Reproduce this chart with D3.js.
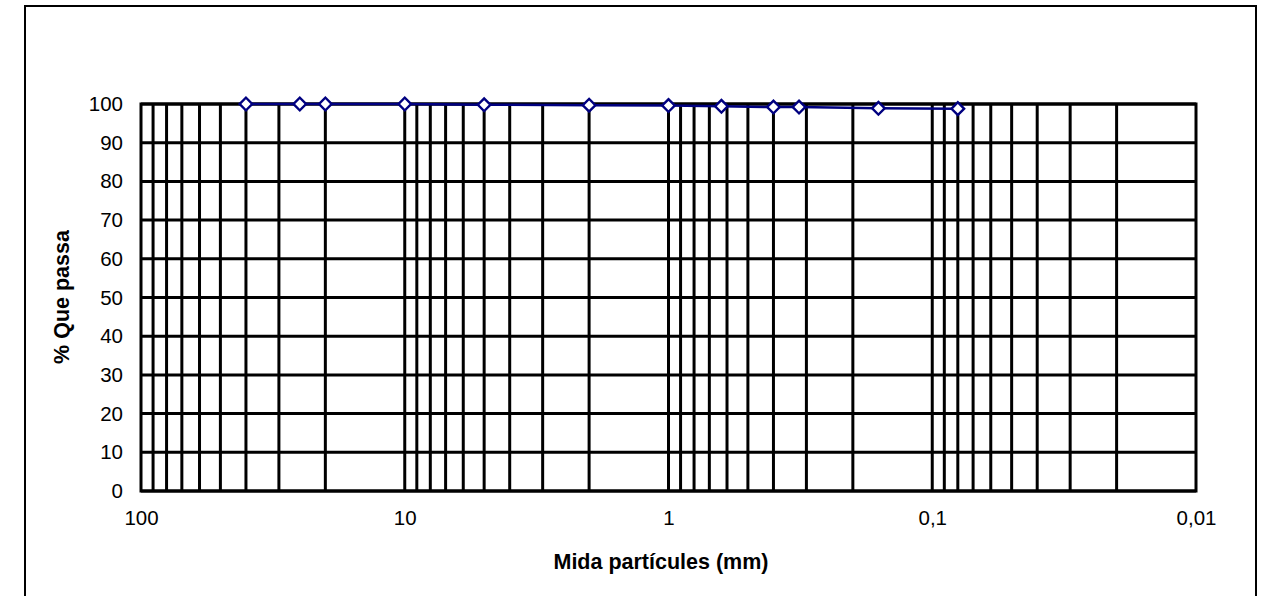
<!DOCTYPE html>
<html>
<head>
<meta charset="utf-8">
<script src="https://cdn.jsdelivr.net/npm/d3@7"></script>
<style>
  html, body { margin: 0; padding: 0; background: #fff; }
  svg { display: block; }
  text { font-family: "Liberation Sans", Arial, sans-serif; fill: #000; }
</style>
</head>
<body>
<svg id="chart" width="1272" height="596"></svg>
<script>
// Granulometric curve: sieve opening (mm) vs percentage passing
const sieveSizes = [40, 25, 20, 10, 5, 2, 1, 0.63, 0.4, 0.32, 0.16, 0.08];
const percentPassing = [100, 100, 100, 100, 99.8, 99.7, 99.6, 99.4, 99.2, 99.2, 98.9, 98.8];
const xTickValues = [100, 10, 1, 0.1, 0.01];
const xTickLabels = ["100", "10", "1", "0,1", "0,01"];
const yTickValues = [0, 10, 20, 30, 40, 50, 60, 70, 80, 90, 100];

const svg = d3.select("#chart");

// Outer chart frame (bottom edge falls outside the canvas)
svg.append("rect")
  .attr("x", 25).attr("y", 6)
  .attr("width", 1231).attr("height", 620)
  .attr("fill", "#fff").attr("stroke", "#000").attr("stroke-width", 2);

const plotLeft = 141, plotRight = 1196, plotTop = 104, plotBottom = 491;

const x = d3.scaleLog().domain([100, 0.01]).range([plotLeft, plotRight]);
const y = d3.scaleLinear().domain([0, 100]).range([plotBottom, plotTop]);

// Vertical log grid: 1..9 x 10^k for each decade
const gridX = [];
for (let e = 1; e >= -2; e--) {
  for (let m = 1; m <= 9; m++) {
    const v = m * Math.pow(10, e);
    if (v <= 100 && v > 0.01) gridX.push(v);
  }
}

const grid = svg.append("g");
grid.selectAll("line.v").data(gridX).join("line")
  .attr("class", "v")
  .attr("x1", d => x(d)).attr("x2", d => x(d))
  .attr("y1", plotTop).attr("y2", plotBottom)
  .attr("stroke", "#000").attr("stroke-width", 3);

grid.selectAll("line.h").data(yTickValues).join("line")
  .attr("class", "h")
  .attr("x1", plotLeft).attr("x2", plotRight)
  .attr("y1", d => y(d)).attr("y2", d => y(d))
  .attr("stroke", "#000").attr("stroke-width", 3);

// Plot area border
svg.append("rect")
  .attr("x", plotLeft).attr("y", plotTop)
  .attr("width", plotRight - plotLeft).attr("height", plotBottom - plotTop)
  .attr("fill", "none").attr("stroke", "#000").attr("stroke-width", 3);

// Axes (labels only; grid draws the ticks)
const yAxis = d3.axisLeft(y).tickValues(yTickValues).tickSize(0).tickPadding(18);
const gy = svg.append("g").attr("transform", `translate(${plotLeft},0)`).call(yAxis);
gy.select(".domain").remove();
gy.selectAll("text").attr("font-size", 20.5).attr("font-family", "Liberation Sans, Arial, sans-serif");

const xAxis = d3.axisBottom(x).tickValues(xTickValues)
  .tickFormat((d, i) => xTickLabels[i]).tickSize(0).tickPadding(19);
const gx = svg.append("g").attr("transform", `translate(0,${plotBottom})`).call(xAxis);
gx.select(".domain").remove();
gx.selectAll("text").attr("font-size", 20.5).attr("font-family", "Liberation Sans, Arial, sans-serif");

// Axis titles
svg.append("text")
  .attr("x", 661).attr("y", 569)
  .attr("text-anchor", "middle")
  .attr("font-size", 21.5).attr("font-weight", "bold")
  .text("Mida partícules (mm)");

svg.append("text")
  .attr("transform", "translate(69,297) rotate(-90)")
  .attr("text-anchor", "middle")
  .attr("font-size", 21.5).attr("font-weight", "bold")
  .text("% Que passa");

// Curve and markers
const pts = sieveSizes.map((s, i) => [s, percentPassing[i]]);
svg.append("path")
  .datum(pts)
  .attr("fill", "none").attr("stroke", "#000080").attr("stroke-width", 2.5)
  .attr("d", d3.line().x(d => x(d[0])).y(d => y(d[1])));

svg.selectAll("path.marker").data(pts).join("path")
  .attr("class", "marker")
  .attr("transform", d => `translate(${x(d[0])},${y(d[1])}) rotate(45)`)
  .attr("d", d3.symbol(d3.symbolSquare, 80)())
  .attr("fill", "#fff").attr("stroke", "#000080").attr("stroke-width", 2.4);
</script>
</body>
</html>
